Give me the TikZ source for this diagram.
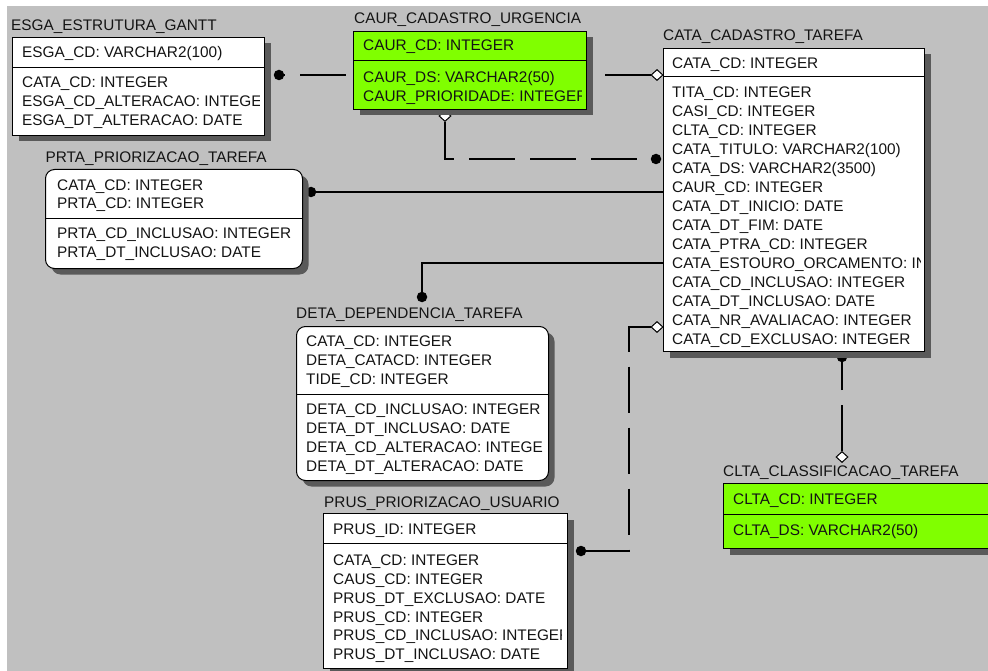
\documentclass[tikz,border=0pt]{standalone}
\usepackage{fontspec}
\setmainfont{Liberation Sans}
\usetikzlibrary{shapes.geometric,shadows}
\definecolor{canvas}{RGB}{192,192,192}
\definecolor{keygreen}{RGB}{128,255,0}
\definecolor{shade}{RGB}{90,90,90}
\definecolor{ink}{RGB}{20,20,20}
\pgfdeclarelayer{base}
\pgfdeclarelayer{links}
\pgfsetlayers{base,links,main}
\tikzset{
  tbl/.style={draw=black, line width=1pt, anchor=north west, inner sep=0pt,
    general shadow={fill=shade, shadow xshift=6pt, shadow yshift=-6pt}},
  round tbl/.style={tbl, rounded corners=9pt},
  fld/.style={anchor=base west, inner sep=0pt, font=\fontsize{15.35}{19}\selectfont, text=ink},
  sepline/.style={line width=1pt, black},
  rel/.style={line width=1.2pt, black},
  nonid/.style={rel, dash pattern=on 46pt off 15pt},
  onedot/.style={circle, fill=black, inner sep=0pt, minimum size=10.5pt},
  opt/.style={diamond, draw=black, fill=white, line width=1pt, inner sep=0pt,
    minimum width=12pt, minimum height=11pt},
}
\begin{document}
\begin{tikzpicture}[x=1pt,y=-1pt]
\useasboundingbox (0,0) rectangle (988,671);
\begin{pgfonlayer}{base}
  \fill[white] (0,0) rectangle (988,671);
  \fill[canvas] (7,6) rectangle (988,671);
\end{pgfonlayer}

% ---------- ESGA_ESTRUTURA_GANTT ----------
\node[fld] (esga-t) at (11,30.4) {ESGA\_ESTRUTURA\_GANTT};
\node[tbl, fill=white, minimum width=252pt, minimum height=98pt] (esga) at (12,37) {};
\draw[sepline] (esga.west |- 0,68) -- (esga.east |- 0,68);
\begin{scope}
  \clip (esga.north west) rectangle ([xshift=-6pt]esga.south east);
  \node[fld] (esga-k1) at (22,57.4) {ESGA\_CD: VARCHAR2(100)};
  \foreach \t [count=\i] in {CATA\_CD: INTEGER, ESGA\_CD\_ALTERACAO: INTEGER, ESGA\_DT\_ALTERACAO: DATE}
    \node[fld] (esga-a\i) at (22,{82+19*(\i-1)+5.4}) {\t};
\end{scope}

% ---------- CAUR_CADASTRO_URGENCIA ----------
\node[fld] (caur-t) at (354,23.9) {CAUR\_CADASTRO\_URGENCIA};
\node[tbl, fill=keygreen, minimum width=233pt, minimum height=78pt] (caur) at (353,31) {};
\draw[sepline] (caur.west |- 0,61) -- (caur.east |- 0,61);
\begin{scope}
  \clip (caur.north west) rectangle ([xshift=-6pt]caur.south east);
  \node[fld] (caur-k1) at (363,50.4) {CAUR\_CD: INTEGER};
  \foreach \t [count=\i] in {CAUR\_DS: VARCHAR2(50), CAUR\_PRIORIDADE: INTEGER}
    \node[fld] (caur-a\i) at (363,{77+19*(\i-1)+5.4}) {\t};
\end{scope}

% ---------- CATA_CADASTRO_TAREFA ----------
\node[fld] (cata-t) at (663,40.9) {CATA\_CADASTRO\_TAREFA};
\node[tbl, fill=white, minimum width=261pt, minimum height=303pt] (cata) at (663,48) {};
\draw[sepline] (cata.west |- 0,77) -- (cata.east |- 0,77);
\begin{scope}
  \clip (cata.north west) rectangle ([xshift=-5pt]cata.south east);
  \node[fld] (cata-k1) at (672,68.4) {CATA\_CD: INTEGER};
  \foreach \t [count=\i] in {TITA\_CD: INTEGER, CASI\_CD: INTEGER, CLTA\_CD: INTEGER,
      CATA\_TITULO: VARCHAR2(100), CATA\_DS: VARCHAR2(3500), CAUR\_CD: INTEGER,
      CATA\_DT\_INICIO: DATE, CATA\_DT\_FIM: DATE, CATA\_PTRA\_CD: INTEGER,
      CATA\_ESTOURO\_ORCAMENTO: INTEGER, CATA\_CD\_INCLUSAO: INTEGER,
      CATA\_DT\_INCLUSAO: DATE, CATA\_NR\_AVALIACAO: INTEGER, CATA\_CD\_EXCLUSAO: INTEGER}
    \node[fld] (cata-a\i) at (672,{92+19*(\i-1)+5.4}) {\t};
\end{scope}

% ---------- PRTA_PRIORIZACAO_TAREFA ----------
\node[fld] (prta-t) at (45.5,162.4) {PRTA\_PRIORIZACAO\_TAREFA};
\node[round tbl, fill=white, minimum width=257pt, minimum height=99pt] (prta) at (45,169) {};
\draw[sepline] (prta.west |- 0,219) -- (prta.east |- 0,219);
\begin{scope}
  \clip (prta.north west) rectangle ([xshift=-6pt]prta.south east);
  \foreach \t/\y [count=\i] in {CATA\_CD: INTEGER/185, PRTA\_CD: INTEGER/203}
    \node[fld] (prta-k\i) at (57,\y+5.4) {\t};
  \foreach \t/\y [count=\i] in {PRTA\_CD\_INCLUSAO: INTEGER/233.5, PRTA\_DT\_INCLUSAO: DATE/252}
    \node[fld] (prta-a\i) at (57,\y+5.4) {\t};
\end{scope}

% ---------- DETA_DEPENDENCIA_TAREFA ----------
\node[fld] (deta-t) at (296,318.9) {DETA\_DEPENDENCIA\_TAREFA};
\node[round tbl, fill=white, minimum width=252pt, minimum height=154pt] (deta) at (296,326) {};
\draw[sepline] (deta.west |- 0,394) -- (deta.east |- 0,394);
\begin{scope}
  \clip (deta.north west) rectangle ([xshift=-7pt]deta.south east);
  \foreach \t [count=\i] in {CATA\_CD: INTEGER, DETA\_CATACD: INTEGER, TIDE\_CD: INTEGER}
    \node[fld] (deta-k\i) at (306,{341+19*(\i-1)+5.4}) {\t};
  \foreach \t [count=\i] in {DETA\_CD\_INCLUSAO: INTEGER, DETA\_DT\_INCLUSAO: DATE,
      DETA\_CD\_ALTERACAO: INTEGER, DETA\_DT\_ALTERACAO: DATE}
    \node[fld] (deta-a\i) at (306,{409+19*(\i-1)+5.4}) {\t};
\end{scope}

% ---------- PRUS_PRIORIZACAO_USUARIO ----------
\node[fld] (prus-t) at (324,507.4) {PRUS\_PRIORIZACAO\_USUARIO};
\node[tbl, fill=white, minimum width=244pt, minimum height=155pt] (prus) at (323,513) {};
\draw[sepline] (prus.west |- 0,543) -- (prus.east |- 0,543);
\begin{scope}
  \clip (prus.north west) rectangle ([xshift=-7pt]prus.south east);
  \node[fld] (prus-k1) at (333,534.4) {PRUS\_ID: INTEGER};
  \foreach \t [count=\i] in {CATA\_CD: INTEGER, CAUS\_CD: INTEGER, PRUS\_DT\_EXCLUSAO: DATE,
      PRUS\_CD: INTEGER, PRUS\_CD\_INCLUSAO: INTEGER, PRUS\_DT\_INCLUSAO: DATE}
    \node[fld] (prus-a\i) at (333,{560.5+18.7*(\i-1)+5.4}) {\t};
\end{scope}

% ---------- CLTA_CLASSIFICACAO_TAREFA ----------
\node[fld] (clta-t) at (723,476.4) {CLTA\_CLASSIFICACAO\_TAREFA};
\node[tbl, fill=keygreen, minimum width=272pt, minimum height=65pt] (clta) at (723,483) {};
\draw[sepline] (clta.west |- 0,514) -- (clta.east |- 0,514);
\node[fld] (clta-k1) at (733,504.4) {CLTA\_CD: INTEGER};
\node[fld] (clta-a1) at (733,535.4) {CLTA\_DS: VARCHAR2(50)};

% ---------- relationships ----------
\begin{pgfonlayer}{links}
  % ESGA -> CATA
  \node[onedot] (esgaend) at (279,75) {};
  \node[opt] (cataopt1) at (657,75) {};
  \draw[nonid] (cataopt1.west) -- (esgaend.east);
  % CAUR -> CATA
  \node[opt] (cauropt) at (445,116) {};
  \node[onedot] (cataend1) at (656,159) {};
  \draw[nonid] (cauropt.south) |- (cataend1.west);
  % PRTA -> CATA
  \node[onedot] (prtaend) at (311,192) {};
  \draw[rel] (prtaend) -- (cata.west |- prtaend);
  % DETA -> CATA
  \node[onedot] (detaend) at (422,297) {};
  \coordinate (detaknee) at (422,263);
  \draw[rel] (cata.west |- detaknee) -- (detaknee) -- (detaend);
  % PRUS -> CATA
  \node[opt] (cataopt2) at (657,327) {};
  \node[onedot] (prusend) at (581,551) {};
  \coordinate (prusknee) at (629,551);
  \draw[nonid] (cataopt2.west) -| (prusknee) -- (prusend.east);
  % CATA -> CLTA
  \node[onedot] (cataend2) at (842,357) {};
  \node[opt] (cltaopt) at (842,457) {};
  \draw[nonid] (cltaopt.north) -- (cataend2);
\end{pgfonlayer}
\end{tikzpicture}
\end{document}
